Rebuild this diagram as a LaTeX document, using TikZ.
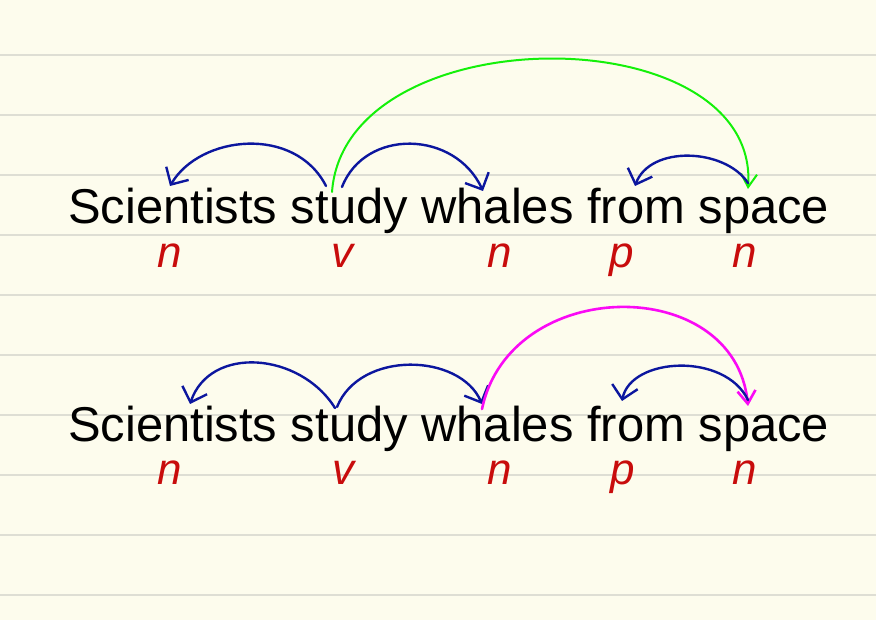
\documentclass[tikz,border=0pt]{standalone}
\usepackage{fontspec}
\setmainfont{Liberation Sans}
\newfontfamily\handfont{Liberation Sans}
\usetikzlibrary{arrows.meta}
\definecolor{paper}{RGB}{253,252,237}
\definecolor{rule}{RGB}{222,222,212}
\definecolor{inkblue}{RGB}{12,22,158}
\definecolor{inkgreen}{RGB}{20,240,10}
\definecolor{inkmag}{RGB}{250,10,245}
\definecolor{inkred}{RGB}{200,12,12}
\tikzset{
  sentence/.style={anchor=base west, inner sep=0pt, font=\fontsize{48.9}{58}\selectfont},
  tag/.style={anchor=base, inner sep=0pt, text=inkred, font=\handfont\itshape\fontsize{44}{48}\selectfont},
  bluearc/.style={draw=inkblue, line width=2.4pt, line cap=round, line join=round, -{Straight Barb[length=13pt,width=26pt]}},
  greenarc/.style={draw=inkgreen, line width=2pt, line cap=round, -{Straight Barb[length=13pt,width=16pt]}},
  magarc/.style={draw=inkmag, line width=2.6pt, line cap=round, -{Straight Barb[length=13pt,width=18pt]}},
}
\begin{document}
\begin{tikzpicture}[x=1pt,y=-1pt]
\fill[paper] (0,0) rectangle (876,620);
\useasboundingbox (0,0) rectangle (876,620);
\foreach \k in {0,...,9} {
  \draw[rule, line width=2pt] (0,55+60*\k) -- (876,55+60*\k);
}
% sentences
\node[sentence] (s1) at (68,224) {Scientists study whales from space};
\node[sentence] (s2) at (68,441) {Scientists study whales from space};
% tags row 1
\node[tag] (t1n1) at (170,268) {n};
\node[tag] (t1v)  at (342,268) {v};
\node[tag] (t1n2) at (500,268) {n};
\node[tag] (t1p)  at (622,268) {p};
\node[tag] (t1n3) at (745,268) {n};
% tags row 2
\node[tag] (t2n1) at (170,484) {n};
\node[tag] (t2v)  at (343,484) {v};
\node[tag] (t2n2) at (500,484) {n};
\node[tag] (t2p)  at (623,484) {p};
\node[tag] (t2n3) at (745,484) {n};
% arc end points row 1
\coordinate (r1sciIn)   at (170,186);
\coordinate (r1stuL)    at (326,186);
\coordinate (r1stuR)    at (342,187);
\coordinate (r1stuG)    at (332,192);
\coordinate (r1whaIn)   at (483,191);
\coordinate (r1froIn)   at (635,186);
\coordinate (r1spaOut)  at (748,183);
\coordinate (r1spaIn)   at (748,189);
% arc end points row 2
\coordinate (r2sciIn)   at (190,404);
\coordinate (r2stuL)    at (335,408);
\coordinate (r2stuR)    at (337,407);
\coordinate (r2whaIn)   at (482,404);
\coordinate (r2whaOut)  at (482,409);
\coordinate (r2froIn)   at (622,401);
\coordinate (r2spaOut)  at (748,400);
\coordinate (r2spaIn)   at (748,406);
% row 1 arcs
\draw[bluearc] (r1stuL) .. controls (295,125) and (200,135) .. (r1sciIn);
\draw[bluearc] (r1stuR) .. controls (365,128) and (455,130) .. (r1whaIn);
\draw[greenarc] (r1stuG) .. controls (345,15) and (760,15) .. (r1spaIn);
\draw[bluearc] (r1spaOut) .. controls (725,148) and (650,145) .. (r1froIn);
% row 2 arcs
\draw[bluearc] (r2stuL) .. controls (300,352) and (210,345) .. (r2sciIn);
\draw[bluearc] (r2stuR) .. controls (360,350) and (460,353) .. (r2whaIn);
\draw[magarc] (r2whaOut) .. controls (510,275) and (735,273) .. (r2spaIn);
\draw[bluearc] (r2spaOut) .. controls (725,352) and (631,357) .. (r2froIn);
\end{tikzpicture}
\end{document}
